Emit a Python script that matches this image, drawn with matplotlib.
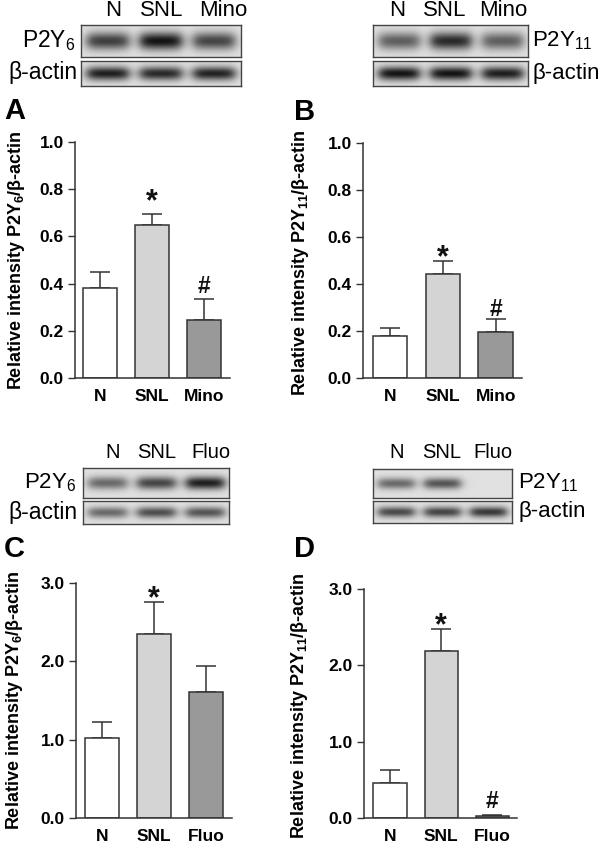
import numpy as np
import matplotlib
matplotlib.use('Agg')
import matplotlib.pyplot as plt

plt.rcParams['font.family'] = ['Liberation Sans', 'DejaVu Sans']
plt.rcParams['mathtext.default'] = 'regular'

# bar chart data (mean and upper error)
groups_mino = ['N', 'SNL', 'Mino']
groups_fluo = ['N', 'SNL', 'Fluo']
p2y6_mino = [0.38, 0.65, 0.245]
p2y6_mino_err = [0.07, 0.045, 0.09]
p2y11_mino = [0.18, 0.443, 0.197]
p2y11_mino_err = [0.033, 0.057, 0.056]
p2y6_fluo = [1.02, 2.35, 1.61]
p2y6_fluo_err = [0.21, 0.41, 0.33]
p2y11_fluo = [0.46, 2.19, 0.03]
p2y11_fluo_err = [0.17, 0.29, 0.01]
marks_a = ['', '*', '#']
marks_b = ['', '*', '#']
marks_c = ['', '*', '']
marks_d = ['', '*', '#']

# western blot band strengths per lane (0 = no band)
blot_a_target = [0.75, 0.95, 0.72]
blot_a_actin = [0.9, 0.85, 0.88]
blot_b_target = [0.6, 0.85, 0.6]
blot_b_actin = [0.95, 0.95, 0.9]
blot_c_target = [0.55, 0.72, 0.9]
blot_c_actin = [0.55, 0.68, 0.65]
blot_d_target = [0.55, 0.65, 0.0]
blot_d_actin = [0.7, 0.72, 0.78]

bar_colors = ['white', '#d4d4d4', '#999999']
edge = '#333333'

W, H = 600, 843
fig = plt.figure(figsize=(6, 8.43), dpi=100)


def rect(x0, y0, x1, y1):
    return [x0 / W, 1 - y1 / H, (x1 - x0) / W, (y1 - y0) / H]


def ftext(x, y, s, **kw):
    fig.text(x / W, 1 - y / H, s, **kw)


def blot(x0, y0, x1, y1, strengths, band_h=0.28):
    ax = fig.add_axes(rect(x0, y0, x1, y1))
    nx, ny = 200, 40
    xs = np.linspace(0, 1, nx)
    ys = np.linspace(0, 1, ny)
    X, Y = np.meshgrid(xs, ys)
    img = np.full((ny, nx), 0.88)
    for i, s in enumerate(strengths):
        cx = (2 * i + 1) / 6
        hx = 1 / (1 + np.exp((np.abs(X - cx) - 0.13) / 0.02))
        vy = np.exp(-((Y - 0.5) / band_h) ** 2)
        img -= s * 0.85 * hx * vy
    ax.imshow(img, cmap='gray', vmin=0, vmax=1, aspect='auto',
              interpolation='bilinear')
    ax.set_xticks([])
    ax.set_yticks([])
    for sp in ax.spines.values():
        sp.set_color('#444444')
        sp.set_linewidth(1.0)


def bars(axrect, groups, means, errs, marks, ymax, yticks, ylabel,
         xlim, label_pos, mark_pad):
    ax = fig.add_axes(rect(*axrect))
    x = np.arange(len(groups))
    ax.errorbar(x, means, yerr=[np.zeros(len(errs)), errs], fmt='none',
                ecolor=edge, elinewidth=1.1, capsize=7, capthick=1.1,
                zorder=1)
    ax.bar(x, means, width=0.65, color=bar_colors, edgecolor=edge,
           linewidth=1.1, zorder=2)
    for xi, m, e, mk in zip(x, means, errs, marks):
        if mk == '*':
            ax.annotate(mk, (xi, m + e), xytext=(0, mark_pad[0]),
                        textcoords='offset points', ha='center',
                        va='baseline', fontsize=22, fontweight='bold',
                        color='#111111')
        elif mk:
            ax.annotate(mk, (xi, m + e), xytext=(0, mark_pad[1]),
                        textcoords='offset points', ha='center',
                        va='baseline', fontsize=16.5, fontweight='bold',
                        color='#111111')
    ax.set_xlim(*xlim)
    ax.set_ylim(0, ymax)
    ax.set_yticks(yticks)
    ax.set_yticklabels([f'{t:.1f}' for t in yticks], fontsize=12.5,
                       fontweight='bold')
    ax.set_xticks(x)
    ax.set_xticklabels(groups, fontsize=12.5, fontweight='bold')
    ax.tick_params(axis='x', length=0, pad=8)
    ax.tick_params(axis='y', length=5, width=1, color=edge, pad=3)
    for s in ['top', 'right']:
        ax.spines[s].set_visible(False)
    for s in ['left', 'bottom']:
        ax.spines[s].set_color(edge)
        ax.spines[s].set_linewidth(1.1)
    ax.set_ylabel(ylabel, fontsize=13, fontweight='bold')
    ax.yaxis.set_label_coords(label_pos[0], label_pos[1])
    return ax


lab6 = r'Relative intensity P2Y$_{6}$/β-actin'
lab11 = r'Relative intensity P2Y$_{11}$/β-actin'

# panel A
blot(81, 25, 241, 57, blot_a_target)
blot(81, 61, 241, 86, blot_a_actin)
for g, xc in zip(groups_mino, [113, 162, 223]):
    ftext(xc, 10, g, ha='center', va='center', fontsize=16)
ftext(76, 41, r'P2Y$_{6}$', ha='right', va='center', fontsize=16.5)
ftext(77, 73, 'β-actin', ha='right', va='center', fontsize=16.5)
bars((75, 142, 230, 378), groups_mino, p2y6_mino, p2y6_mino_err, marks_a,
     1.0, [0.0, 0.2, 0.4, 0.6, 0.8, 1.0], lab6, (-0.48, 2.49),
     (-0.31, 0.5), (3.0, 4.3))
ftext(4, 111, 'A', ha='left', va='center', fontsize=21, fontweight='bold')

# panel B
blot(373, 25, 528, 57, blot_b_target)
blot(373, 61, 528, 86, blot_b_actin)
for g, xc in zip(groups_mino, [397, 445, 503]):
    ftext(xc, 10, g, ha='center', va='center', fontsize=16)
ftext(532, 41, r'P2Y$_{11}$', ha='left', va='center', fontsize=16)
ftext(532, 73, 'β-actin', ha='left', va='center', fontsize=16)
bars((363, 143, 522, 378), groups_mino, p2y11_mino, p2y11_mino_err,
     marks_b, 1.0, [0.0, 0.2, 0.4, 0.6, 0.8, 1.0], lab11, (-0.51, 2.5),
     (-0.33, 0.49), (-4.2, 1.5))
ftext(294, 112, 'B', ha='left', va='center', fontsize=21, fontweight='bold')

# panel C
blot(83, 468, 229, 498, blot_c_target, band_h=0.22)
blot(83, 501, 229, 524, blot_c_actin, band_h=0.25)
for g, xc in zip(groups_fluo, [113, 157, 211]):
    ftext(xc, 452, g, ha='center', va='center', fontsize=14.5)
ftext(76, 483, r'P2Y$_{6}$', ha='right', va='center', fontsize=16)
ftext(77, 512, 'β-actin', ha='right', va='center', fontsize=16.5)
bars((76, 583, 232, 818), groups_fluo, p2y6_fluo, p2y6_fluo_err, marks_c,
     3.0, [0.0, 1.0, 2.0, 3.0], lab6, (-0.49, 2.49),
     (-0.33, 0.5), (-4.2, 2))
ftext(4, 549, 'C', ha='left', va='center', fontsize=21, fontweight='bold')

# panel D
blot(373, 469, 512, 498, blot_d_target, band_h=0.2)
blot(373, 501, 512, 523, blot_d_actin, band_h=0.25)
for g, xc in zip(groups_fluo, [397, 442, 493]):
    ftext(xc, 452, g, ha='center', va='center', fontsize=14.5)
ftext(518, 483, r'P2Y$_{11}$', ha='left', va='center', fontsize=16)
ftext(518, 512, 'β-actin', ha='left', va='center', fontsize=16)
bars((364, 589, 517, 818), groups_fluo, p2y11_fluo, p2y11_fluo_err,
     marks_d, 3.0, [0.0, 1.0, 2.0, 3.0], lab11, (-0.51, 2.48),
     (-0.35, 0.49), (-4.2, 5))
ftext(294, 549, 'D', ha='left', va='center', fontsize=21, fontweight='bold')

fig.savefig('out.png', dpi=100)
